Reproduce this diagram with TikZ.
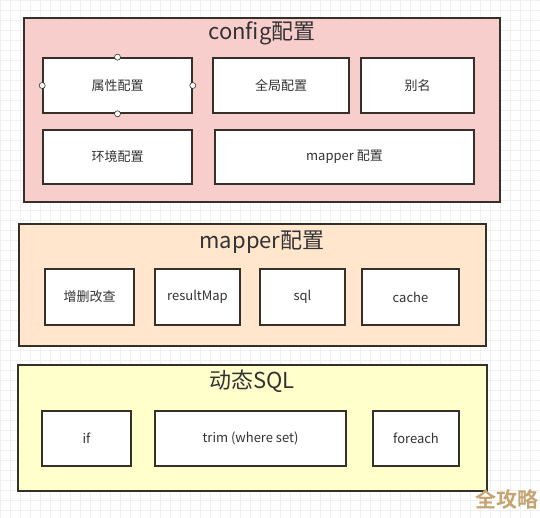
\documentclass[tikz,border=0pt]{standalone}
\usepackage{fontspec}
\setmainfont{Noto Sans CJK SC}
\newfontfamily\cjkb[BoldFont={Noto Sans CJK SC Bold}]{Noto Sans CJK SC}
\definecolor{edge}{HTML}{36302A}
\definecolor{pinkf}{HTML}{F8CECC}
\definecolor{peachf}{HTML}{FFE6CC}
\definecolor{yellowf}{HTML}{FFFFCC}
\definecolor{gridc}{HTML}{F0F0F0}
\definecolor{wmark}{HTML}{C4A572}
\tikzset{
  panel/.style={draw=edge, line width=1.6pt, inner sep=0pt},
  item/.style={draw=edge, fill=white, line width=1.6pt, inner sep=0pt, font=\fontsize{13}{15}\selectfont, text=black!80},
  ptitle/.style={font=\fontsize{22}{26}\selectfont, text=black!80, inner sep=0pt},
  handle/.style={circle, draw=edge, fill=white, line width=0.6pt, minimum size=6pt, inner sep=0pt},
}
\begin{document}
\begin{tikzpicture}[x=1pt,y=-1pt]
\useasboundingbox (0,0) rectangle (540,518);
\fill[white] (0,0) rectangle (540,518);
\draw[gridc, line width=0.5pt] (0,0) grid[step=10pt] (540,518);
% config panel
\node[panel, fill=pinkf, minimum width=476pt, minimum height=184pt] (cfg) at (262,110) {};
\node[ptitle] (cfgt) at (262,33) {config配置};
\node[item, minimum width=149pt, minimum height=55pt] (attr) at (117.5,85.5) {属性配置};
\node[item, minimum width=136pt, minimum height=55pt] (glob) at (281,85.5) {全局配置};
\node[item, minimum width=113pt, minimum height=55pt] (alias) at (417.5,85.5) {别名};
\node[item, minimum width=149pt, minimum height=54pt] (env) at (117.5,157) {环境配置};
\node[item, minimum width=259pt, minimum height=54pt] (mcfg) at (344.5,157) {mapper 配置};
\node[handle] (h1) at (attr.north) {};
\node[handle] (h2) at (attr.south) {};
\node[handle] (h3) at (attr.west) {};
\node[handle] (h4) at (attr.east) {};
% mapper panel
\node[panel, fill=peachf, minimum width=467pt, minimum height=122pt] (map) at (252.5,285) {};
\node[ptitle] (mapt) at (262,242) {mapper配置};
\node[item, minimum width=89pt, minimum height=56pt] (crud) at (89.5,297) {增删改查};
\node[item, minimum width=85pt, minimum height=56pt] (rmap) at (197.5,297) {resultMap};
\node[item, minimum width=85pt, minimum height=56pt] (sql) at (302.5,297) {sql};
\node[item, minimum width=97pt, minimum height=56pt] (cache) at (410.5,297) {cache};
% dynamic SQL panel
\node[panel, fill=yellowf, minimum width=469pt, minimum height=126pt] (dyn) at (252.5,428) {};
\node[ptitle] (dynt) at (252,381) {动态SQL};
\node[item, minimum width=89pt, minimum height=55pt] (if) at (86.5,438.5) {if};
\node[item, minimum width=191pt, minimum height=55pt] (trim) at (250.5,438.5) {trim (where set)};
\node[item, minimum width=86pt, minimum height=55pt] (fe) at (416,438.5) {foreach};
% watermark
\node[font=\cjkb\bfseries\fontsize{21}{23}\selectfont, text=wmark, inner sep=0pt] (wm) at (507,499) {全攻略};
\end{tikzpicture}
\end{document}
